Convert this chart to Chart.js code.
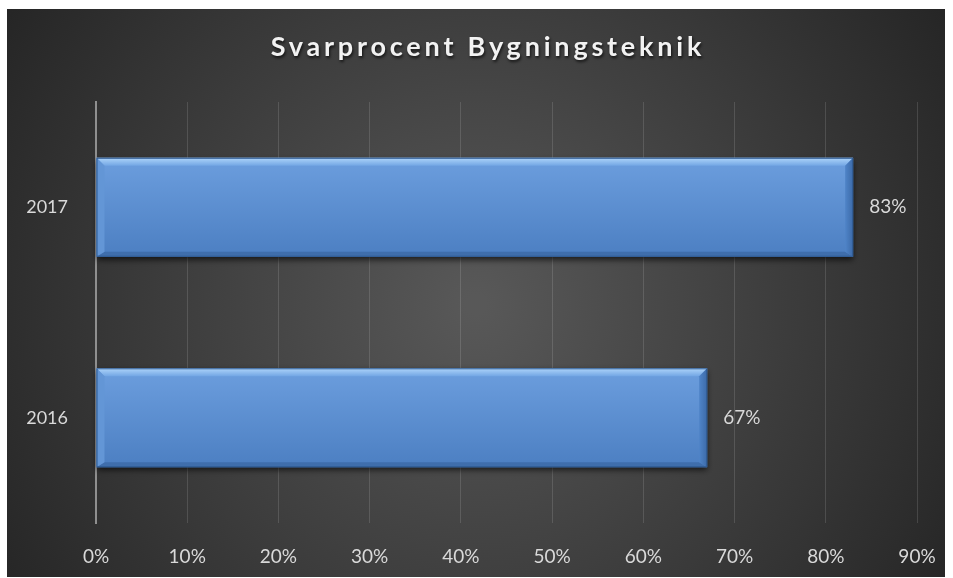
<!DOCTYPE html>
<html>
<head>
<meta charset="utf-8">
<script src="https://cdn.jsdelivr.net/npm/chart.js@4"></script>
<style>
  html, body { margin: 0; padding: 0; background: #ffffff; }
  #wrap { position: absolute; left: 7px; top: 9px; width: 938px; height: 568px; }
</style>
</head>
<body>
<div id="wrap"><canvas id="barChart"></canvas></div>
<script>
const years = ['2017', '2016'];
const responseRate = [83, 67];
const tickValues = [0, 10, 20, 30, 40, 50, 60, 70, 80, 90];
const chartTitle = 'Svarprocent Bygningsteknik';

const FONT = 'Lato, "Open Sans", sans-serif';
const TEXT = '#d9d9d9';

// dark radial background + title
const backdrop = {
    id: 'backdrop',
    beforeDraw(chart) {
        const {ctx, width, height} = chart;
        ctx.save();
        const g = ctx.createRadialGradient(width * 0.5, height * 0.52, 10, width * 0.5, height * 0.52, width * 0.62);
        g.addColorStop(0, '#585858');
        g.addColorStop(0.55, '#3b3b3b');
        g.addColorStop(1, '#232323');
        ctx.fillStyle = g;
        ctx.fillRect(0, 0, width, height);

        ctx.font = 'bold 27px ' + FONT;
        ctx.letterSpacing = '3.8px';
        ctx.textAlign = 'center';
        ctx.textBaseline = 'middle';
        ctx.shadowColor = 'rgba(0,0,0,0.7)';
        ctx.shadowBlur = 3;
        ctx.shadowOffsetX = 1;
        ctx.shadowOffsetY = 2;
        ctx.fillStyle = '#f2f2f2';
        ctx.fillText(chartTitle, width / 2 + 12, 38);
        ctx.restore();
    }
};

// bevelled bars and value labels
const bevel = {
    id: 'bevel',
    afterDatasetsDraw(chart) {
        const {ctx} = chart;
        const meta = chart.getDatasetMeta(0);
        meta.data.forEach((bar, i) => {
            const left = Math.min(bar.x, bar.base);
            const right = Math.max(bar.x, bar.base);
            const top = bar.y - bar.height / 2;
            const bottom = bar.y + bar.height / 2;
            const b = 8;
            ctx.save();
            // shadow + body
            ctx.shadowColor = 'rgba(0,0,0,0.65)';
            ctx.shadowBlur = 6;
            ctx.shadowOffsetY = 3;
            const body = ctx.createLinearGradient(0, top, 0, bottom);
            body.addColorStop(0, '#6c9ede');
            body.addColorStop(1, '#4c7fc2');
            ctx.fillStyle = body;
            ctx.fillRect(left, top, right - left, bottom - top);
            ctx.shadowColor = 'transparent';

            // top bevel
            const tg = ctx.createLinearGradient(0, top, 0, top + b);
            tg.addColorStop(0, '#afd5fa');
            tg.addColorStop(1, '#72a6e4');
            ctx.fillStyle = tg;
            ctx.beginPath();
            ctx.moveTo(left, top); ctx.lineTo(right, top);
            ctx.lineTo(right - b, top + b); ctx.lineTo(left + b, top + b);
            ctx.closePath(); ctx.fill();

            // bottom bevel
            ctx.fillStyle = '#3f6eac';
            ctx.beginPath();
            ctx.moveTo(left, bottom); ctx.lineTo(right, bottom);
            ctx.lineTo(right - b, bottom - 5); ctx.lineTo(left + b, bottom - 5);
            ctx.closePath(); ctx.fill();

            // right bevel
            const rg = ctx.createLinearGradient(right - b, 0, right, 0);
            rg.addColorStop(0, '#4f84c8');
            rg.addColorStop(1, '#3c6aa8');
            ctx.fillStyle = rg;
            ctx.beginPath();
            ctx.moveTo(right, top); ctx.lineTo(right, bottom);
            ctx.lineTo(right - b, bottom - 5); ctx.lineTo(right - b, top + b);
            ctx.closePath(); ctx.fill();

            // left bevel
            ctx.fillStyle = '#6396d6';
            ctx.beginPath();
            ctx.moveTo(left, top); ctx.lineTo(left, bottom);
            ctx.lineTo(left + b, bottom - 5); ctx.lineTo(left + b, top + b);
            ctx.closePath(); ctx.fill();

            ctx.strokeStyle = '#2f5a92';
            ctx.lineWidth = 1;
            ctx.strokeRect(left + 0.5, top + 0.5, right - left - 1, bottom - top - 1);

            // value label
            ctx.font = '19px ' + FONT;
            ctx.fillStyle = TEXT;
            ctx.textAlign = 'left';
            ctx.textBaseline = 'middle';
            ctx.fillText(responseRate[i] + '%', right + 16, bar.y);
            ctx.restore();
        });
    }
};

const config = {
    type: 'bar',
    data: {
        labels: years,
        datasets: [{
            data: responseRate,
            backgroundColor: 'rgba(0,0,0,0)',
            borderWidth: 0,
            barPercentage: 0.94,
            categoryPercentage: 0.5
        }]
    },
    options: {
        indexAxis: 'y',
        responsive: true,
        maintainAspectRatio: false,
        animation: false,
        layout: { padding: { top: 93, right: 28, left: 0, bottom: 0 } },
        plugins: {
            legend: { display: false },
            title: { display: false },
            tooltip: { enabled: false }
        },
        scales: {
            x: {
                min: 0,
                max: 90,
                afterBuildTicks(scale) {
                    scale.ticks = tickValues.map(v => ({value: v}));
                },
                afterFit(scale) {
                    scale.height = 54;
                    scale.paddingLeft = 0;
                    scale.paddingRight = 0;
                },
                grid: { color: 'rgba(255,255,255,0.13)', lineWidth: 1, drawTicks: false },
                border: { display: false },
                ticks: {
                    color: TEXT,
                    font: { family: FONT, size: 19 },
                    padding: 22,
                    callback: v => v + '%'
                }
            },
            y: {
                afterFit(scale) { scale.width = 89; },
                grid: { display: false, drawTicks: false },
                border: { display: true, color: '#8f8f8f', width: 2 },
                ticks: {
                    color: TEXT,
                    font: { family: FONT, size: 18 },
                    padding: 28
                }
            }
        }
    },
    plugins: [backdrop, bevel]
};

new Chart(document.getElementById('barChart'), config);
</script>
</body>
</html>
